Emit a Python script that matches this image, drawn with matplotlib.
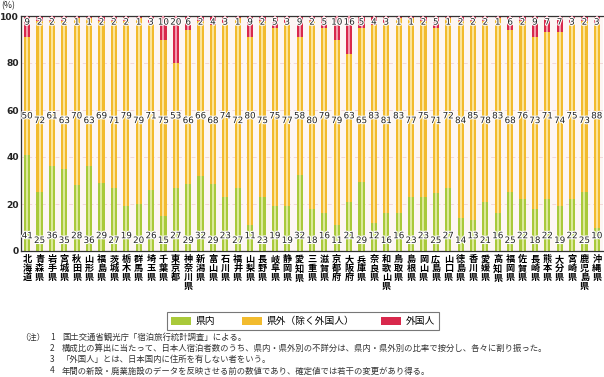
import matplotlib
matplotlib.use("Agg")
import matplotlib.pyplot as plt
import matplotlib.patheffects as pe
from matplotlib.patches import Patch
import numpy as np

plt.rcParams['font.family'] = ['Noto Sans CJK JP', 'DejaVu Sans']

# 都道府県
prefs = ["北海道", "青森県", "岩手県", "宮城県", "秋田県", "山形県", "福島県", "茨城県",
         "栃木県", "群馬県", "埼玉県", "千葉県", "東京都", "神奈川県", "新潟県", "富山県",
         "石川県", "福井県", "山梨県", "長野県", "岐阜県", "静岡県", "愛知県", "三重県",
         "滋賀県", "京都府", "大阪府", "兵庫県", "奈良県", "和歌山県", "鳥取県", "島根県",
         "岡山県", "広島県", "山口県", "徳島県", "香川県", "愛媛県", "高知県", "福岡県",
         "佐賀県", "長崎県", "熊本県", "大分県", "宮崎県", "鹿児島県", "沖縄県"]

# 県内 (%)
kennai = [41, 25, 36, 35, 28, 36, 29, 27, 19, 20, 26, 15, 27, 29, 32, 29, 23, 27, 11, 23,
          19, 19, 32, 18, 16, 11, 21, 29, 12, 16, 16, 23, 23, 25, 27, 14, 13, 21, 16, 25,
          22, 18, 22, 19, 22, 25, 10]
# 県外（除く外国人） (%)
kengai = [50, 72, 61, 63, 70, 63, 69, 71, 79, 79, 71, 75, 53, 66, 66, 68, 74, 72, 80, 75,
          75, 77, 58, 80, 79, 79, 63, 65, 83, 81, 83, 77, 75, 71, 72, 84, 85, 78, 83, 68,
          76, 73, 71, 74, 75, 73, 88]
# 外国人 (%)
gaikoku = [9, 2, 2, 2, 1, 1, 2, 2, 2, 1, 3, 10, 20, 6, 2, 4, 3, 1, 9, 2,
           5, 3, 9, 2, 5, 10, 16, 5, 4, 3, 1, 1, 2, 5, 1, 2, 2, 2, 1, 6,
           2, 9, 7, 7, 3, 2, 3]

notes = [("（注）", "1", "国土交通省観光庁「宿泊旅行統計調査」による。"),
         ("", "2", "構成比の算出に当たって、日本人宿泊者数のうち、県内・県外別の不詳分は、県内・県外別の比率で按分し、各々に割り振った。"),
         ("", "3", "「外国人」とは、日本国内に住所を有しない者をいう。"),
         ("", "4", "年間の新設・廃業施設のデータを反映させる前の数値であり、確定値では若干の変更があり得る。")]

c_green, c_green_l = "#a9c93a", "#dbe99a"
c_yel, c_yel_l = "#f2bb2e", "#fbe49a"
c_red, c_red_l = "#d8284c", "#f29aae"

W, H = 604, 377
fig = plt.figure(figsize=(W / 100, H / 100), dpi=100)
ax = fig.add_axes([21 / W, (H - 251) / H, (603 - 21) / W, (251 - 16) / H])
ax.set_facecolor("#fdf6f4")

x = np.arange(len(prefs))
a = np.array(kennai, float)
b = np.array(kengai, float)
c = np.array(gaikoku, float)
tot = a + b + c
a, b, c = a / tot * 100, b / tot * 100, c / tot * 100

bw, iw = 0.5, 0.16
for vals, bottom, col, col_l in [(a, 0, c_green, c_green_l),
                                 (b, a, c_yel, c_yel_l),
                                 (c, a + b, c_red, c_red_l)]:
    ax.bar(x, vals, bw, bottom=bottom, color=col, linewidth=0, zorder=2)
    ax.bar(x, vals, iw, bottom=bottom, color=col_l, linewidth=0, zorder=3)

halo = [pe.withStroke(linewidth=1.6, foreground="white")]
for i in range(len(prefs)):
    off = 1.0 if i % 2 == 0 else -1.0
    ax.text(i, 5.5 + off, str(kennai[i]), ha="center", va="center", fontsize=6.3,
            family="DejaVu Sans", color="#222222", path_effects=halo, zorder=5)
    ax.text(i, 56.5 + off, str(kengai[i]), ha="center", va="center", fontsize=6.3,
            family="DejaVu Sans", color="#222222", path_effects=halo, zorder=5)
    ax.text(i, 97.4, str(gaikoku[i]), ha="center", va="center", fontsize=6.3,
            family="DejaVu Sans", color="#222222", path_effects=halo, zorder=5)

ax.set_xlim(-0.5, len(prefs) - 0.5)
ax.set_ylim(0, 100)
ax.set_yticks([0, 20, 40, 60, 80, 100])
ax.set_yticklabels(["0", "20", "40", "60", "80", "100"], fontsize=6.6,
                   family="DejaVu Sans", fontweight="bold", color="#222222")
for yv in [20, 40, 60, 80]:
    ax.axhline(yv, color="#f2d8d8", lw=0.7, ls=(0, (4, 3)), zorder=1)
ax.set_xticks(x)
ax.set_xticklabels(["\n".join(p) for p in prefs], fontsize=6.6, fontweight="bold",
                   linespacing=1.0, va="top")
ax.tick_params(axis="both", length=0, pad=3)
ax.tick_params(axis="y", pad=1.5)
for s in ["left", "bottom", "top"]:
    ax.spines[s].set_color("#333333")
    ax.spines[s].set_linewidth(0.9)
ax.spines["right"].set_visible(False)

fig.text(1 / W, 1 - 6 / H, "(%)", fontsize=6.3, va="center", ha="left", color="#222222")

handles = [Patch(facecolor=c_green, edgecolor="none"),
           Patch(facecolor=c_yel, edgecolor="none"),
           Patch(facecolor=c_red, edgecolor="none")]
leg = fig.legend(handles, ["県内", "県外（除く外国人）", "外国人"], ncol=3,
                 loc="center", bbox_to_anchor=(303 / W, 1 - 321 / H),
                 fontsize=7, frameon=True, fancybox=False, handlelength=2.0,
                 handleheight=0.9, columnspacing=2.8, handletextpad=0.5,
                 borderpad=0.45)
leg.get_frame().set_edgecolor("#555555")
leg.get_frame().set_linewidth(0.8)

for k, (pre, num, txt) in enumerate(notes):
    yy = 1 - (337 + k * 11.3) / H
    if pre:
        fig.text(20 / W, yy, pre, fontsize=6.0, va="center", ha="left", color="#333333")
    fig.text(50 / W, yy, num, fontsize=6.0, va="center", ha="left", color="#333333")
    fig.text(62 / W, yy, txt, fontsize=6.0, va="center", ha="left", color="#333333")

fig.savefig("out.png", dpi=100)
